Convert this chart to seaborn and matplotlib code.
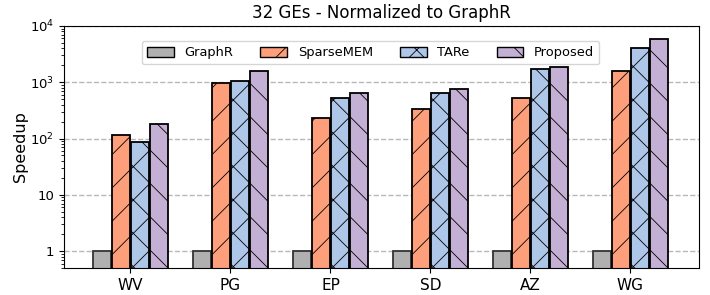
import pandas as pd
import matplotlib.pyplot as plt
import matplotlib.patches as mpatches
import seaborn as sns

# Data
datasets = ['WV', 'PG', 'EP', 'SD', 'AZ', 'WG']
methods = ['GraphR', 'SparseMEM', 'TARe', 'Proposed']
graphr = [1, 1, 1, 1, 1, 1]
sparsemem = [115, 960, 230, 330, 520, 1570]
tare = [87, 1050, 530, 640, 1700, 4050]
proposed = [180, 1580, 640, 750, 1860, 5900]

colors = ['#b0b0b0', '#fc9f7a', '#aec7e8', '#c5b0d5']
hatches = ['', '/', 'x', '\\']

df = pd.DataFrame({
    'Dataset': datasets * 4,
    'Method': [m for m in methods for _ in datasets],
    'Speedup': graphr + sparsemem + tare + proposed,
})

plt.rcParams['hatch.linewidth'] = 0.6
plt.rcParams['font.family'] = ['DejaVu Sans']

fig, ax = plt.subplots(figsize=(7.1, 2.95), dpi=100)
sns.barplot(data=df, x='Dataset', y='Speedup', hue='Method', order=datasets,
            hue_order=methods, palette=colors, saturation=1, width=0.76, gap=0.05,
            edgecolor='black', linewidth=1.3, ax=ax, legend=False)

ax.set_yscale('log')
ax.set_ylim(0.5, 1e4)
ax.set_xlim(-0.665, 5.685)

# hatches: patches are ordered by hue, then by category
n = len(datasets)
for i, bar in enumerate(ax.patches[:n * len(methods)]):
    bar.set_hatch(hatches[i // n])
    if i // n == 0:
        bar.set_edgecolor('#333333')

ax.set_yticks([1, 10, 100, 1000, 10000])
ax.set_yticklabels(['1', '10', r'$10^2$', r'$10^3$', r'$10^4$'], fontsize=9.5)
ax.tick_params(axis='x', labelsize=11)
ax.set_xlabel('')
ax.set_ylabel('Speedup', fontsize=11.5)
ax.yaxis.set_label_coords(-0.057, 0.5)
ax.set_title('32 GEs - Normalized to GraphR', fontsize=12)
ax.yaxis.grid(True, which='major', linestyle='--', color='#b8b8b8', linewidth=1)
ax.set_axisbelow(True)

handles = [mpatches.Patch(facecolor=c, edgecolor='black', hatch=h, label=m)
           for c, h, m in zip(colors, hatches, methods)]
ax.legend(handles=handles, loc='upper center', ncol=4, fontsize=9.4,
          bbox_to_anchor=(0.483, 0.965), columnspacing=2.05, handlelength=2.05,
          handleheight=0.83, handletextpad=0.83)

fig.subplots_adjust(left=0.090, right=0.9845, top=0.912, bottom=0.0915)
plt.savefig('out.png', dpi=100)
